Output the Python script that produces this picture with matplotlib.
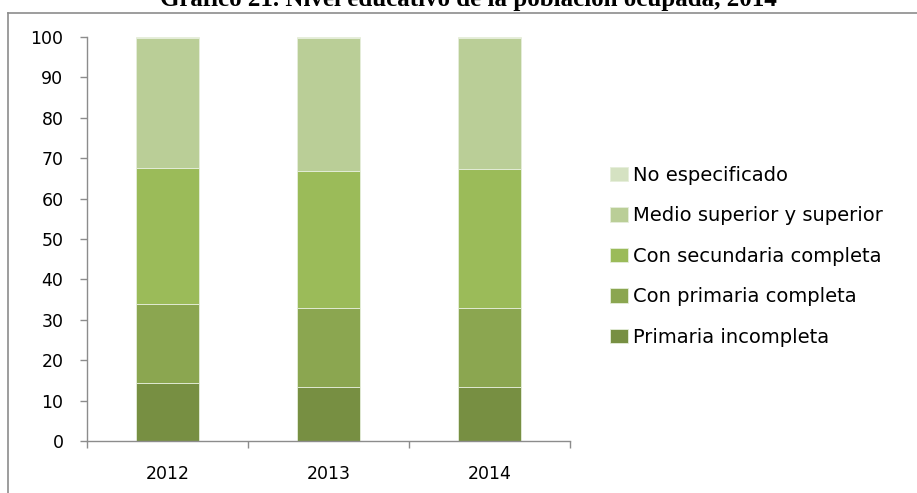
import numpy as np
import matplotlib.pyplot as plt
from matplotlib.lines import Line2D

# Data (percent of employed population)
years = ['2012', '2013', '2014']
series_names = ['Primaria incompleta', 'Con primaria completa', 'Con secundaria completa',
                'Medio superior y superior', 'No especificado']
primaria_incompleta = [14.3, 13.3, 13.3]
con_primaria = [19.5, 19.7, 19.7]
con_secundaria = [33.8, 33.9, 34.3]
medio_superior = [32.2, 32.9, 32.5]
no_especificado = [0.2, 0.2, 0.2]
colors = ['#778F42', '#8BA650', '#9BBB59', '#BACE97', '#D5E2C2']

series = [primaria_incompleta, con_primaria, con_secundaria, medio_superior, no_especificado]

W, H = 917, 493
fig = plt.figure(figsize=(W / 100, H / 100), dpi=100)
ax = fig.add_axes([87 / W, 1 - 441 / H, (570 - 87) / W, (441 - 37) / H])

x = np.arange(len(years))
bottom = np.zeros(len(years))
handles = []
for name, vals, col in zip(series_names, series, colors):
    b = ax.bar(x, vals, width=0.39, bottom=bottom, color=col, edgecolor='#e6eedb',
               linewidth=0.6, label=name)
    handles.append(b)
    bottom += np.array(vals)

ax.set_xlim(-0.5, len(years) - 0.5)
ax.set_ylim(0, 100)
ax.set_yticks(np.arange(0, 101, 10))

# ticks between categories, labels at category centres
ax.set_xticks(np.arange(-0.5, len(years), 1.0))
ax.set_xticklabels([])
ax.set_xticks(x, minor=True)
ax.set_xticklabels(years, minor=True)
ax.tick_params(axis='x', which='minor', length=0, pad=17, labelsize=12.5)
ax.tick_params(axis='x', which='major', length=5, color='#8c8c8c', width=1)
ax.tick_params(axis='y', length=5, color='#8c8c8c', width=1, pad=12, labelsize=12.5)

for s in ['top', 'right']:
    ax.spines[s].set_visible(False)
for s in ['left', 'bottom']:
    ax.spines[s].set_color('#8c8c8c')
    ax.spines[s].set_linewidth(1)

leg = fig.legend(handles[::-1], series_names[::-1], loc='upper left',
                 bbox_to_anchor=(610 / W, 1 - 166 / H), frameon=False, fontsize=14,
                 handlelength=0.9, handleheight=0.75, handletextpad=0.3,
                 labelspacing=1.1, borderpad=0, borderaxespad=0)

# outer chart frame (partly cut off by the image edges)
top = 1 - 12.5 / H
left = 8 / W
fig.add_artist(Line2D([left, 1], [top, top], color='#8c8c8c', lw=1.2, transform=fig.transFigure))
fig.add_artist(Line2D([left, left], [0, top], color='#8c8c8c', lw=1.2, transform=fig.transFigure))

fig.text(468 / W, 1 - 6 / H, 'Gráfico 21. Nivel educativo de la población ocupada, 2014',
         ha='center', va='baseline', fontsize=18, fontweight='bold', family='Liberation Serif')

fig.savefig('out.png', dpi=100)
